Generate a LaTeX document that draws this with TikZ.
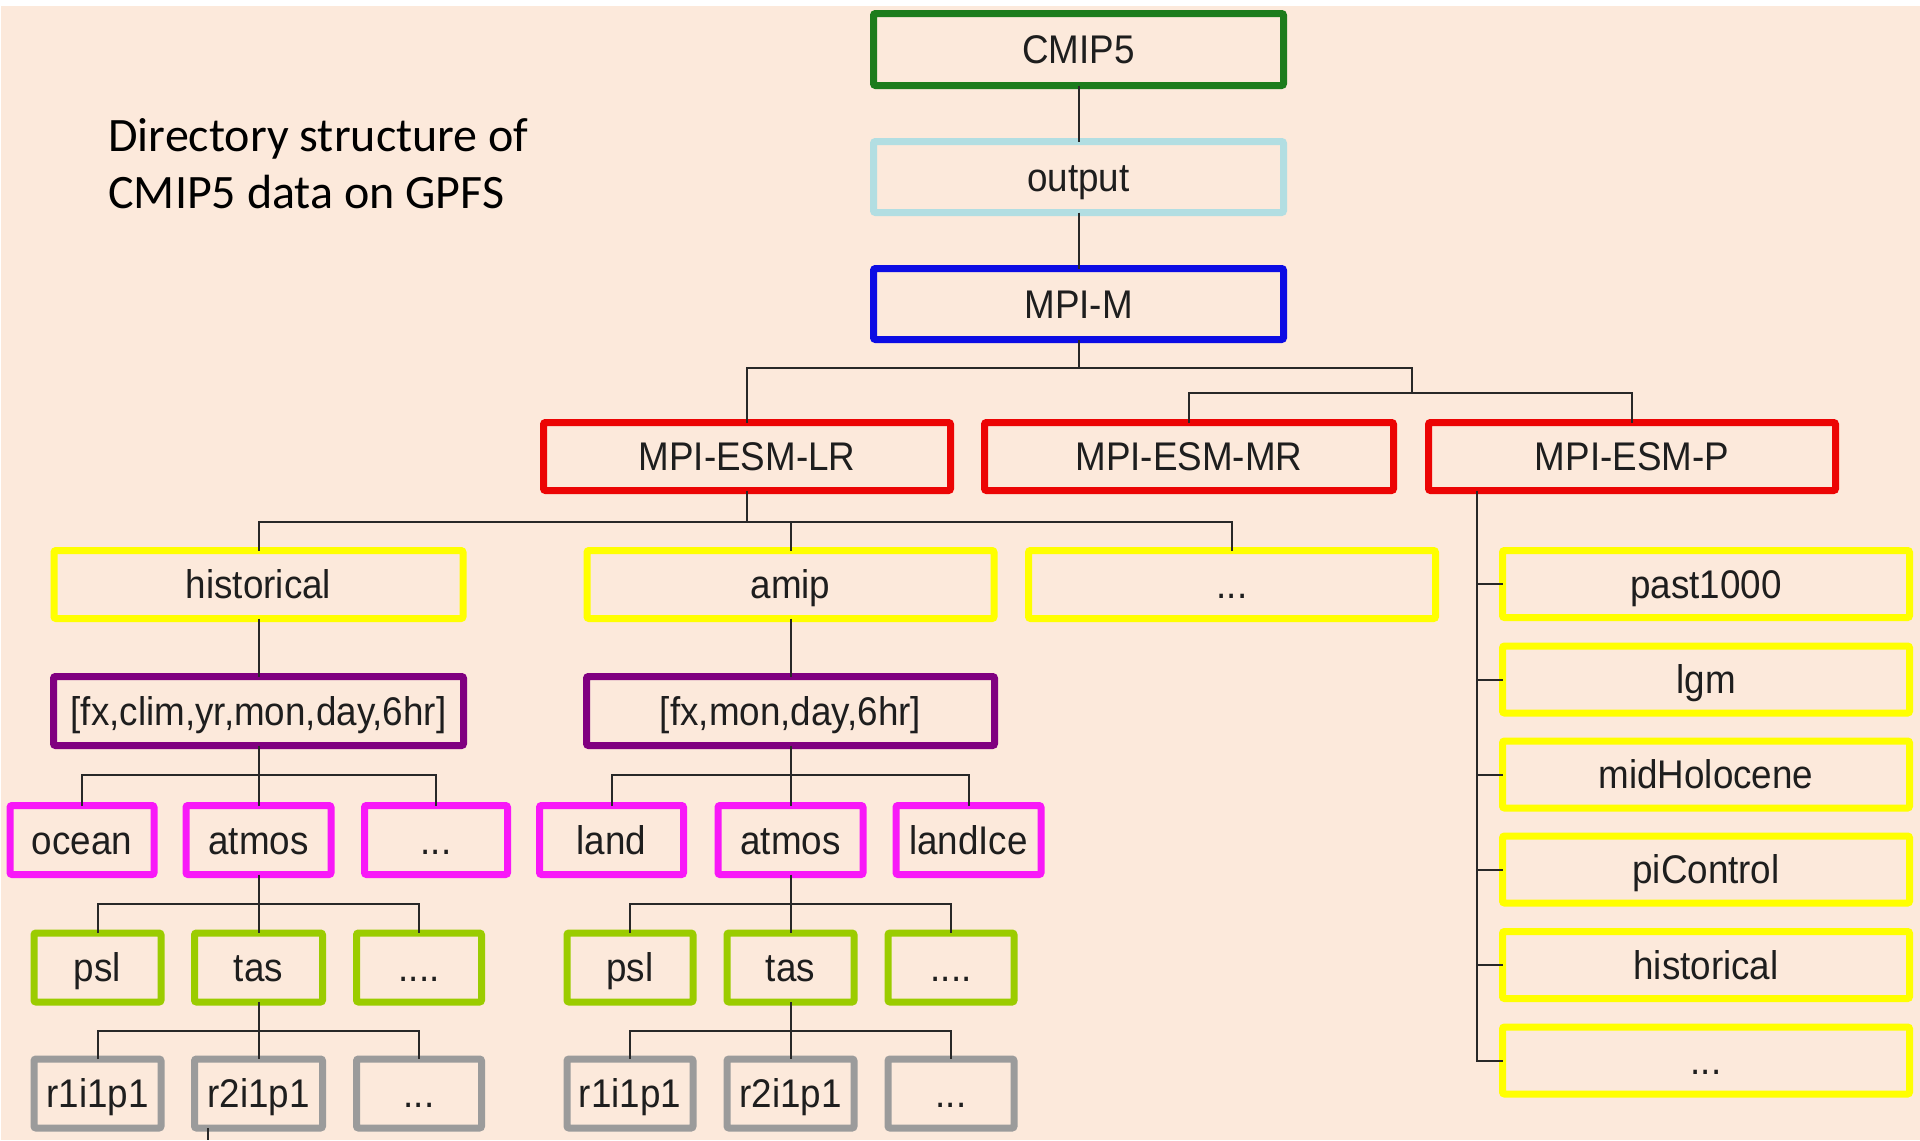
\documentclass[tikz,border=0pt]{standalone}
\usepackage{fontspec}
\setmainfont{Liberation Sans}
\newfontfamily\boxfont[FakeStretch=0.92]{Liberation Sans}
\newfontfamily\titlefont{Carlito}
\definecolor{bgpeach}{RGB}{252,233,219}
\definecolor{cgreen}{RGB}{28,124,28}
\definecolor{clblue}{RGB}{178,222,226}
\definecolor{cblue}{RGB}{12,12,228}
\definecolor{cred}{RGB}{236,4,4}
\definecolor{cyellow}{RGB}{255,255,0}
\definecolor{cpurple}{RGB}{128,0,128}
\definecolor{cmagenta}{RGB}{248,24,248}
\definecolor{cygreen}{RGB}{155,204,0}
\definecolor{cgray}{RGB}{155,155,155}
\definecolor{textc}{RGB}{30,30,30}
\definecolor{linec}{RGB}{40,40,40}
\begin{document}
\begin{tikzpicture}[x=0.5pt,y=-0.5pt,
  tbox/.style={draw, line width=3.5pt, rounded corners=1pt, inner sep=0pt, outer sep=0pt,
    text height=18pt, text depth=4pt,
    text=textc, font=\boxfont\fontsize{20}{24}\selectfont},
  sz/.style n args={2}{minimum width={(#1-7)*0.5pt}, minimum height={(#2-7)*0.5pt}},
  conn/.style={draw=linec, line width=1pt},
  titletext/.style={anchor=base west, inner sep=0pt, text=black, font=\titlefont\fontsize{24}{28}\selectfont}]
\useasboundingbox (0,0) rectangle (1920,1140);
\fill[white] (0,0) rectangle (1920,1140);
\fill[bgpeach] (1,6) rectangle (1920,1140);

% title
\node[titletext] (title1) at (108,151) {Directory structure of};
\node[titletext] (title2) at (108,208) {CMIP5 data on GPFS};

% top stack
\node[tbox, draw=cgreen, sz={417}{79}] (cmip) at (1078.5,49.5) {CMIP5};
\node[tbox, draw=clblue, sz={417}{78}] (output) at (1078.5,177) {output};
\node[tbox, draw=cblue, sz={417}{78}] (mpim) at (1078.5,304) {MPI-M};

% models
\node[tbox, draw=cred, sz={414}{75}] (lr) at (747,456.5) {MPI-ESM-LR};
\node[tbox, draw=cred, sz={416}{75}] (mr) at (1189,456.5) {MPI-ESM-MR};
\node[tbox, draw=cred, sz={414}{75}] (p) at (1632,456.5) {MPI-ESM-P};

% experiments of LR
\node[tbox, draw=cyellow, sz={416}{75}] (hist) at (258.5,584.5) {historical};
\node[tbox, draw=cyellow, sz={414}{75}] (amip) at (790.5,584.5) {amip};
\node[tbox, draw=cyellow, sz={414}{75}] (dots3) at (1232,584.5) {...};

% experiments of P
\node[tbox, draw=cyellow, sz={414}{74}] (past) at (1706,584) {past1000};
\node[tbox, draw=cyellow, sz={414}{74}] (lgm) at (1706,679.5) {lgm};
\node[tbox, draw=cyellow, sz={414}{74}] (mid) at (1706,774.5) {midHolocene};
\node[tbox, draw=cyellow, sz={414}{74}] (pic) at (1706,869.5) {piControl};
\node[tbox, draw=cyellow, sz={414}{74}] (phist) at (1706,965) {historical};
\node[tbox, draw=cyellow, sz={414}{74}] (pdots) at (1706,1060.5) {...};

% frequencies
\node[tbox, draw=cpurple, sz={417}{76}] (freqL) at (258.5,711) {[fx,clim,yr,mon,day,6hr]};
\node[tbox, draw=cpurple, sz={415}{76}] (freqR) at (790.5,711) {[fx,mon,day,6hr]};

% realms
\node[tbox, draw=cmagenta, sz={151}{76}] (ocean) at (82,840) {ocean};
\node[tbox, draw=cmagenta, sz={152}{76}] (atmosL) at (258.5,840) {atmos};
\node[tbox, draw=cmagenta, sz={150}{76}] (dotsL5) at (436,840) {...};
\node[tbox, draw=cmagenta, sz={151}{76}] (land) at (611.5,840) {land};
\node[tbox, draw=cmagenta, sz={152}{76}] (atmosR) at (790.5,840) {atmos};
\node[tbox, draw=cmagenta, sz={152}{76}] (landice) at (968.5,840) {landIce};

% variables
\node[tbox, draw=cygreen, sz={134}{76}] (pslL) at (97.5,967.5) {psl};
\node[tbox, draw=cygreen, sz={135}{76}] (tasL) at (258.5,967.5) {tas};
\node[tbox, draw=cygreen, sz={132}{76}] (d4L) at (419,967.5) {....};
\node[tbox, draw=cygreen, sz={133}{76}] (pslR) at (630,967.5) {psl};
\node[tbox, draw=cygreen, sz={134}{76}] (tasR) at (790.5,967.5) {tas};
\node[tbox, draw=cygreen, sz={133}{76}] (d4R) at (951,967.5) {....};

% ensembles
\node[tbox, draw=cgray, sz={134}{76}] (r1L) at (97.5,1093.5) {r1i1p1};
\node[tbox, draw=cgray, sz={135}{76}] (r2L) at (258.5,1093.5) {r2i1p1};
\node[tbox, draw=cgray, sz={132}{76}] (d5L) at (419,1093.5) {...};
\node[tbox, draw=cgray, sz={133}{76}] (r1R) at (630,1093.5) {r1i1p1};
\node[tbox, draw=cgray, sz={134}{76}] (r2R) at (790.5,1093.5) {r2i1p1};
\node[tbox, draw=cgray, sz={133}{76}] (d5R) at (951,1093.5) {...};

% bus coordinates
\coordinate (bus1) at (0,368);
\coordinate (mrp) at (1412,393);
\coordinate (bus2) at (0,522);
\coordinate (pspine) at (1477,0);
\coordinate (bus3) at (0,775);
\coordinate (bus4) at (0,904);
\coordinate (bus5) at (0,1031);
\coordinate (stubend) at (208,1140);

% connectors
\draw[conn] (cmip.south) -- (output.north);
\draw[conn] (output.south) -- (mpim.north);
\draw[conn] (mpim.south) -- (mpim.south |- bus1);
\draw[conn] (lr.north) |- (mpim.south |- bus1) -| (mrp);
\draw[conn] (mr.north) |- (mrp) -| (p.north);

\draw[conn] (lr.south) -- (lr.south |- bus2);
\draw[conn] (hist.north) |- (dots3.north |- bus2) -- (dots3.north);
\draw[conn] (amip.north) -- (amip.north |- bus2);

\draw[conn] (pspine |- p.south) -- (pspine |- pdots.west) -- (pdots.west);
\draw[conn] (pspine |- past.west) -- (past.west);
\draw[conn] (pspine |- lgm.west) -- (lgm.west);
\draw[conn] (pspine |- mid.west) -- (mid.west);
\draw[conn] (pspine |- pic.west) -- (pic.west);
\draw[conn] (pspine |- phist.west) -- (phist.west);

\draw[conn] (hist.south) -- (freqL.north);
\draw[conn] (amip.south) -- (freqR.north);

\draw[conn] (freqL.south) -- (atmosL.north);
\draw[conn] (ocean.north) |- (dotsL5.north |- bus3) -- (dotsL5.north);
\draw[conn] (freqR.south) -- (atmosR.north);
\draw[conn] (land.north) |- (landice.north |- bus3) -- (landice.north);

\draw[conn] (atmosL.south) -- (tasL.north);
\draw[conn] (pslL.north) |- (d4L.north |- bus4) -- (d4L.north);
\draw[conn] (atmosR.south) -- (tasR.north);
\draw[conn] (pslR.north) |- (d4R.north |- bus4) -- (d4R.north);

\draw[conn] (tasL.south) -- (r2L.north);
\draw[conn] (r1L.north) |- (d5L.north |- bus5) -- (d5L.north);
\draw[conn] (tasR.south) -- (r2R.north);
\draw[conn] (r1R.north) |- (d5R.north |- bus5) -- (d5R.north);

\draw[conn] (r2L.south -| stubend) -- (stubend);
\end{tikzpicture}
\end{document}
